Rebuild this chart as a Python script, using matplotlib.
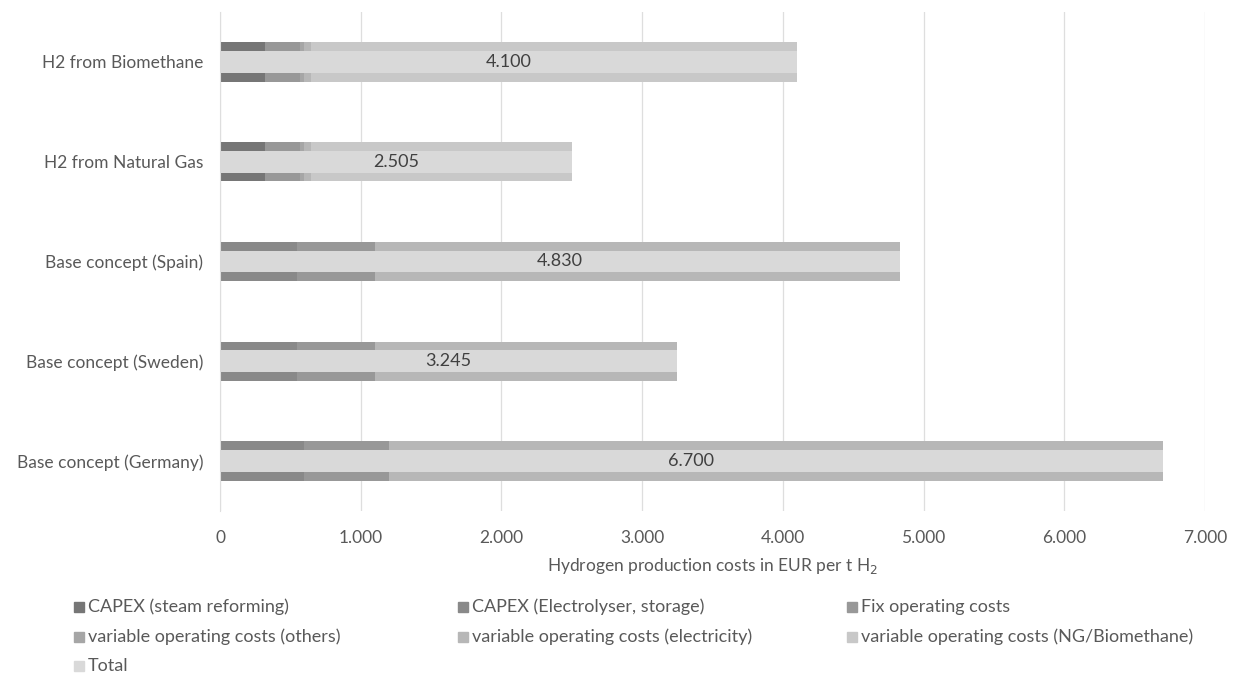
import matplotlib
matplotlib.use('Agg')
import matplotlib.pyplot as plt
from matplotlib.patches import Rectangle
from matplotlib.ticker import FuncFormatter

plt.rcParams['font.family'] = ['Lato', 'DejaVu Sans']

categories = ['Base concept (Germany)', 'Base concept (Sweden)', 'Base concept (Spain)',
              'H2 from Natural Gas', 'H2 from Biomethane']

# cost components in EUR per t H2
capex_smr = [0, 0, 0, 320, 320]
capex_el = [600, 550, 550, 0, 0]
fix_opex = [600, 550, 550, 250, 250]
var_other = [0, 0, 0, 30, 30]
var_elec = [5500, 2145, 3730, 50, 50]
var_ng = [0, 0, 0, 1855, 3450]
totals = [6700, 3245, 4830, 2505, 4100]

series = [
    ('CAPEX (steam reforming)', capex_smr, '#767676'),
    ('CAPEX (Electrolyser, storage)', capex_el, '#898989'),
    ('Fix operating costs', fix_opex, '#989898'),
    ('variable operating costs (others)', var_other, '#a6a6a6'),
    ('variable operating costs (electricity)', var_elec, '#b7b7b7'),
    ('variable operating costs (NG/Biomethane)', var_ng, '#c8c8c8'),
]
total_color = '#d9d9d9'

W, H = 1234, 675
fig = plt.figure(figsize=(W / 100, H / 100), dpi=100)
ax = fig.add_axes([220 / W, 1 - 511 / H, 985 / W, 499 / H])

y = list(range(len(categories)))
left = [0] * len(categories)
for name, vals, col in series:
    ax.barh(y, vals, left=left, height=0.395, color=col, label=name, zorder=2)
    left = [l + v for l, v in zip(left, vals)]

tot = ax.barh(y, totals, height=0.22, color=total_color, label='Total', zorder=3)
ax.bar_label(tot, labels=[f'{t/1000:.3f}' for t in totals], label_type='center',
             fontsize=13, color='#404040')

ax.set_xlim(0, 7000)
ax.set_ylim(-0.5, len(categories) - 0.5)
ax.set_yticks(y)
ax.set_yticklabels(categories)
ax.set_xticks(range(0, 7001, 1000))
ax.xaxis.set_major_formatter(FuncFormatter(lambda v, p: f'{int(v):,}'.replace(',', '.')))
ax.grid(axis='x', color='#dedede', linewidth=0.9, zorder=0)
ax.tick_params(length=0, labelsize=12.5, labelcolor='#595959')
ax.tick_params(axis='y', pad=12)
ax.tick_params(axis='x', pad=14)
for s in ['top', 'right', 'bottom']:
    ax.spines[s].set_visible(False)
ax.spines['left'].set_color('#dedede')

ax.set_xlabel('Hydrogen production costs in EUR per t H$_2$', fontsize=12.5, color='#595959', labelpad=7)

# legend laid out row by row like the original (3 columns)
legend_items = [(name, col) for name, _, col in series] + [('Total', total_color)]
col_x = [74, 458, 847]
row_y = [607, 637, 666]
for i, (name, col) in enumerate(legend_items):
    x0 = col_x[i % 3]
    y0 = row_y[i // 3]
    fig.add_artist(Rectangle((x0 / W, 1 - (y0 + 5) / H), 10 / W, 10 / H,
                             transform=fig.transFigure, color=col))
    fig.text((x0 + 14) / W, 1 - y0 / H, name, fontsize=13, color='#595959',
             ha='left', va='center')

fig.savefig('out.png', dpi=100)
